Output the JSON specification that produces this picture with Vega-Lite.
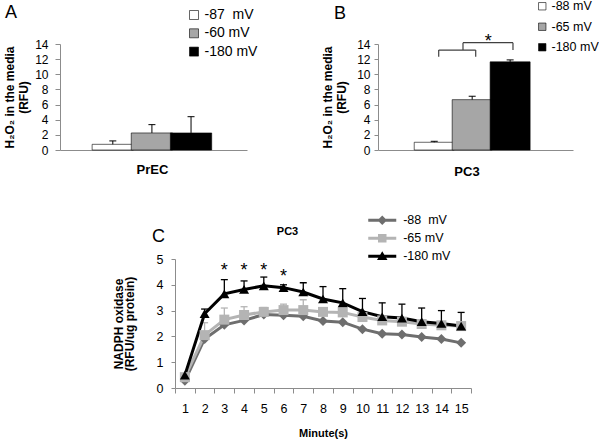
{
  "$schema": "https://vega.github.io/schema/vega-lite/v6.json",
  "padding": {"left": 3, "top": 0, "right": 0, "bottom": 0},
  "config": {
    "font": "Liberation Sans",
    "view": {"stroke": null},
    "axis": {"grid": false, "domainColor": "#8c8c8c", "tickColor": "#8c8c8c", "labelColor": "#000000", "titleColor": "#000000", "labelFont": "Liberation Sans", "titleFont": "Liberation Sans"},
    "legend": {"labelColor": "#000000", "labelFont": "Liberation Sans", "padding": 0},
    "title": {"color": "#000000", "font": "Liberation Sans"}
  },
  "datasets": {
    "h2o2": [
      {"panel": "PrEC", "series": "-87\u00a0 mV", "idx": 1, "value": 0.75, "upper": 1.2},
      {"panel": "PrEC", "series": "-60 mV", "idx": 2, "value": 2.25, "upper": 3.35},
      {"panel": "PrEC", "series": "-180 mV", "idx": 3, "value": 2.25, "upper": 4.4},
      {"panel": "PC3", "series": "-88 mV", "idx": 1, "value": 1.02, "upper": 1.15},
      {"panel": "PC3", "series": "-65 mV", "idx": 2, "value": 6.65, "upper": 7.1},
      {"panel": "PC3", "series": "-180 mV", "idx": 3, "value": 11.64, "upper": 11.9}
    ],
    "bracket": [
      {"x": 1.118, "y": 12.32, "x2": 1.118, "y2": 13.2},
      {"x": 1.118, "y": 13.2, "x2": 2.093, "y2": 13.2},
      {"x": 2.093, "y": 13.2, "x2": 2.093, "y2": 12.32},
      {"x": 1.758, "y": 13.2, "x2": 1.758, "y2": 14.17},
      {"x": 1.758, "y": 14.17, "x2": 3.075, "y2": 14.17},
      {"x": 3.075, "y": 14.17, "x2": 3.075, "y2": 13.2}
    ],
    "nadph": [
      {"minute": 1, "series": "-88\u00a0 mV", "value": 0.28},
      {"minute": 2, "series": "-88\u00a0 mV", "value": 1.9},
      {"minute": 3, "series": "-88\u00a0 mV", "value": 2.45},
      {"minute": 4, "series": "-88\u00a0 mV", "value": 2.62},
      {"minute": 5, "series": "-88\u00a0 mV", "value": 2.85},
      {"minute": 6, "series": "-88\u00a0 mV", "value": 2.82},
      {"minute": 7, "series": "-88\u00a0 mV", "value": 2.78},
      {"minute": 8, "series": "-88\u00a0 mV", "value": 2.6},
      {"minute": 9, "series": "-88\u00a0 mV", "value": 2.55},
      {"minute": 10, "series": "-88\u00a0 mV", "value": 2.28},
      {"minute": 11, "series": "-88\u00a0 mV", "value": 2.1},
      {"minute": 12, "series": "-88\u00a0 mV", "value": 2.07},
      {"minute": 13, "series": "-88\u00a0 mV", "value": 1.98},
      {"minute": 14, "series": "-88\u00a0 mV", "value": 1.9},
      {"minute": 15, "series": "-88\u00a0 mV", "value": 1.75},
      {"minute": 1, "series": "-65 mV", "value": 0.42},
      {"minute": 2, "series": "-65 mV", "value": 2.05, "upper": 2.53},
      {"minute": 3, "series": "-65 mV", "value": 2.65, "upper": 3.1},
      {"minute": 4, "series": "-65 mV", "value": 2.83, "upper": 3.15},
      {"minute": 5, "series": "-65 mV", "value": 2.95, "upper": 3.12},
      {"minute": 6, "series": "-65 mV", "value": 3.02, "upper": 3.25},
      {"minute": 7, "series": "-65 mV", "value": 3.02, "upper": 3.42},
      {"minute": 8, "series": "-65 mV", "value": 2.95},
      {"minute": 9, "series": "-65 mV", "value": 2.93},
      {"minute": 10, "series": "-65 mV", "value": 2.75},
      {"minute": 11, "series": "-65 mV", "value": 2.62},
      {"minute": 12, "series": "-65 mV", "value": 2.57},
      {"minute": 13, "series": "-65 mV", "value": 2.48},
      {"minute": 14, "series": "-65 mV", "value": 2.43},
      {"minute": 15, "series": "-65 mV", "value": 2.4},
      {"minute": 1, "series": "-180 mV", "value": 0.5},
      {"minute": 2, "series": "-180 mV", "value": 2.88, "upper": 3.06},
      {"minute": 3, "series": "-180 mV", "value": 3.65, "upper": 4.2},
      {"minute": 4, "series": "-180 mV", "value": 3.82, "upper": 4.15},
      {"minute": 5, "series": "-180 mV", "value": 3.96, "upper": 4.3},
      {"minute": 6, "series": "-180 mV", "value": 3.89, "upper": 4.0},
      {"minute": 7, "series": "-180 mV", "value": 3.72, "upper": 4.08},
      {"minute": 8, "series": "-180 mV", "value": 3.45, "upper": 3.93},
      {"minute": 9, "series": "-180 mV", "value": 3.3, "upper": 3.85},
      {"minute": 10, "series": "-180 mV", "value": 2.96, "upper": 3.47},
      {"minute": 11, "series": "-180 mV", "value": 2.76, "upper": 3.3},
      {"minute": 12, "series": "-180 mV", "value": 2.71, "upper": 3.25},
      {"minute": 13, "series": "-180 mV", "value": 2.57, "upper": 3.1},
      {"minute": 14, "series": "-180 mV", "value": 2.5, "upper": 3.0},
      {"minute": 15, "series": "-180 mV", "value": 2.4, "upper": 2.93}
    ]
  },
  "resolve": {"scale": {"color": "independent", "shape": "independent"}, "legend": {"color": "independent", "shape": "independent"}},
  "vconcat": [
    {
      "spacing": 63,
      "resolve": {"scale": {"color": "independent"}, "legend": {"color": "independent"}},
      "hconcat": [
        {
          "width": 187, "height": 106,
          "title": {"text": "A", "anchor": "start", "frame": "group", "dx": -55, "offset": -14, "fontSize": 18, "fontWeight": "normal"},
          "encoding": {
            "x": {"field": "idx", "type": "quantitative", "scale": {"domain": [-0.222, 4.303], "nice": false, "zero": false},
              "axis": {"values": [2], "labelExpr": "'PrEC'", "ticks": false, "tickSize": 0, "labelFontSize": 13, "labelFontWeight": "bold", "labelPadding": 13, "labelFlush": false, "title": null}},
            "y": {"field": "value", "type": "quantitative", "stack": null, "scale": {"domain": [0, 14], "nice": false},
              "axis": {"values": [0, 2, 4, 6, 8, 10, 12, 14], "title": ["H₂O₂ in the media", "(RFU)"], "titleFontSize": 12, "titleFontWeight": "bold", "titleLineHeight": 14, "titlePadding": 4, "labelFontSize": 12, "labelPadding": 7, "tickSize": 5}}
          },
          "layer": [
            {
              "data": {"name": "h2o2"},
              "transform": [{"filter": "datum.panel == 'PrEC'"}],
              "mark": {"type": "bar", "orient": "vertical", "width": 41.33, "stroke": "#000000", "strokeWidth": 0.6, "opacity": 1},
              "encoding": {
                "color": {"field": "series", "type": "nominal", "sort": null,
                  "scale": {"domain": ["-87\u00a0 mV", "-60 mV", "-180 mV"], "range": ["#ffffff", "#a6a6a6", "#000000"]},
                  "legend": {"orient": "none", "legendX": 127, "legendY": -36, "title": null, "symbolType": "square", "symbolSize": 81, "labelFontSize": 14, "labelOffset": 3.5, "rowPadding": 4.3, "symbolStrokeColor": "#000000", "symbolStrokeWidth": 0.6}}
              }
            },
            {
              "data": {"name": "h2o2"},
              "transform": [{"filter": "datum.panel == 'PrEC'"}],
              "mark": {"type": "rule", "color": "#000000", "strokeWidth": 1},
              "encoding": {"y2": {"field": "upper"}}
            },
            {
              "data": {"name": "h2o2"},
              "transform": [{"filter": "datum.panel == 'PrEC'"}],
              "mark": {"type": "tick", "orient": "horizontal", "color": "#000000", "size": 7, "thickness": 1, "opacity": 1},
              "encoding": {"y": {"field": "upper", "type": "quantitative"}}
            }
          ]
        },
        {
          "width": 195, "height": 106,
          "title": {"text": "B", "anchor": "start", "frame": "group", "dx": -44, "offset": -23, "fontSize": 18, "fontWeight": "normal"},
          "encoding": {
            "x": {"field": "idx", "type": "quantitative", "scale": {"domain": [-0.35, 4.525], "nice": false, "zero": false},
              "axis": {"values": [1.85], "labelExpr": "'PC3'", "ticks": false, "tickSize": 0, "labelFontSize": 13, "labelFontWeight": "bold", "labelPadding": 15, "labelFlush": false, "title": null}},
            "y": {"field": "value", "type": "quantitative", "stack": null, "scale": {"domain": [0, 14], "nice": false},
              "axis": {"values": [0, 2, 4, 6, 8, 10, 12, 14], "title": ["H₂O₂ in the media", "(RFU)"], "titleFontSize": 12, "titleFontWeight": "bold", "titleLineHeight": 14, "titlePadding": 8, "labelFontSize": 12, "labelPadding": 4, "tickSize": 4}}
          },
          "layer": [
            {
              "data": {"name": "h2o2"},
              "transform": [{"filter": "datum.panel == 'PC3'"}],
              "mark": {"type": "bar", "orient": "vertical", "width": 40, "stroke": "#000000", "strokeWidth": 0.6, "opacity": 1},
              "encoding": {
                "color": {"field": "series", "type": "nominal", "sort": null,
                  "scale": {"domain": ["-88 mV", "-65 mV", "-180 mV"], "range": ["#ffffff", "#a6a6a6", "#000000"]},
                  "legend": {"orient": "none", "legendX": 158, "legendY": -44, "title": null, "symbolType": "square", "symbolSize": 55, "labelFontSize": 12.5, "labelOffset": 3, "rowPadding": 7.5, "symbolStrokeColor": "#000000", "symbolStrokeWidth": 0.6}}
              }
            },
            {
              "data": {"name": "h2o2"},
              "transform": [{"filter": "datum.panel == 'PC3'"}],
              "mark": {"type": "rule", "color": "#000000", "strokeWidth": 1},
              "encoding": {"y2": {"field": "upper"}}
            },
            {
              "data": {"name": "h2o2"},
              "transform": [{"filter": "datum.panel == 'PC3'"}],
              "mark": {"type": "tick", "orient": "horizontal", "color": "#000000", "size": 7, "thickness": 1, "opacity": 1},
              "encoding": {"y": {"field": "upper", "type": "quantitative"}}
            },
            {
              "data": {"name": "bracket"},
              "mark": {"type": "rule", "color": "#404040", "strokeWidth": 1.2},
              "encoding": {
                "x": {"field": "x", "type": "quantitative"},
                "y": {"field": "y", "type": "quantitative"},
                "x2": {"field": "x2"},
                "y2": {"field": "y2"}
              }
            },
            {
              "data": {"values": [{"x": 2.425, "y": 14.27, "mark": "*"}]},
              "mark": {"type": "text", "fontSize": 18, "baseline": "middle", "color": "#000000"},
              "encoding": {
                "x": {"field": "x", "type": "quantitative"},
                "y": {"field": "y", "type": "quantitative"},
                "text": {"field": "mark"}
              }
            }
          ]
        }
      ]
    },
    {
      "spacing": 0,
      "hconcat": [
        {
          "width": 52, "height": 1,
          "data": {"values": [{"blank": ""}]},
          "mark": {"type": "text"},
          "encoding": {"text": {"field": "blank"}}
        },
        {
          "width": 296, "height": 129,
          "title": {"text": "C", "anchor": "start", "frame": "group", "dx": -23, "offset": -32, "fontSize": 18, "fontWeight": "normal"},
          "resolve": {"scale": {"color": "independent", "shape": "independent"}},
          "encoding": {
            "x": {"field": "minute", "type": "ordinal", "scale": {"type": "band", "paddingInner": 0, "paddingOuter": 0},
              "axis": {"title": "Minute(s)", "titleFontSize": 11, "titleFontWeight": "bold", "titlePadding": 13, "labelAngle": 0, "labelFontSize": 12.5, "labelPadding": 9, "tickSize": 5, "tickBand": "extent"}},
            "y": {"field": "value", "type": "quantitative", "scale": {"domain": [0, 5], "nice": false},
              "axis": {"values": [0, 1, 2, 3, 4, 5], "title": ["NADPH oxidase", "(RFU/ug protein)"], "titleFontSize": 12, "titleFontWeight": "bold", "titleLineHeight": 11, "titlePadding": 20, "labelFontSize": 12.5, "labelPadding": 8, "tickSize": 4}}
          },
          "layer": [
            {
              "data": {"name": "nadph"},
              "transform": [{"filter": "isValid(datum.upper)"}],
              "mark": {"type": "rule", "strokeWidth": 1.3},
              "encoding": {
                "y2": {"field": "upper"},
                "color": {"field": "series", "type": "nominal", "sort": null, "legend": null,
                  "scale": {"domain": ["-88\u00a0 mV", "-65 mV", "-180 mV"], "range": ["#6e6e6e", "#b4b4b4", "#000000"]}}
              }
            },
            {
              "data": {"name": "nadph"},
              "transform": [{"filter": "isValid(datum.upper)"}],
              "mark": {"type": "tick", "orient": "horizontal", "size": 7, "thickness": 1.3, "opacity": 1},
              "encoding": {
                "y": {"field": "upper", "type": "quantitative"},
                "color": {"field": "series", "type": "nominal", "sort": null, "legend": null,
                  "scale": {"domain": ["-88\u00a0 mV", "-65 mV", "-180 mV"], "range": ["#6e6e6e", "#b4b4b4", "#000000"]}}
              }
            },
            {
              "data": {"name": "nadph"},
              "mark": {"type": "line", "strokeWidth": 3},
              "encoding": {
                "color": {"field": "series", "type": "nominal", "sort": null, "legend": null,
                  "scale": {"domain": ["-88\u00a0 mV", "-65 mV", "-180 mV"], "range": ["#6e6e6e", "#b4b4b4", "#000000"]}}
              }
            },
            {
              "data": {"name": "nadph"},
              "mark": {"type": "point", "filled": true, "opacity": 1, "size": 100},
              "encoding": {
                "color": {"field": "series", "type": "nominal", "sort": null, "legend": null,
                  "scale": {"domain": ["-88\u00a0 mV", "-65 mV", "-180 mV"], "range": ["#6e6e6e", "#b4b4b4", "#000000"]}},
                "shape": {"field": "series", "type": "nominal", "sort": null, "legend": null,
                  "scale": {"domain": ["-88\u00a0 mV", "-65 mV", "-180 mV"], "range": ["diamond", "square", "triangle-up"]}}
              }
            },
            {
              "data": {"values": [{"minute": 3, "y": 4.55, "mark": "*"}, {"minute": 4, "y": 4.55, "mark": "*"}, {"minute": 5, "y": 4.55, "mark": "*"}, {"minute": 6, "y": 4.3, "mark": "*"}]},
              "mark": {"type": "text", "fontSize": 18, "baseline": "middle", "color": "#000000"},
              "encoding": {
                "y": {"field": "y", "type": "quantitative"},
                "text": {"field": "mark"}
              }
            },
            {
              "data": {"values": [{"minute": 6, "y": 6.05, "label": "PC3"}]},
              "mark": {"type": "text", "fontSize": 11, "fontWeight": "bold", "baseline": "middle", "dx": 4, "color": "#000000"},
              "encoding": {
                "y": {"field": "y", "type": "quantitative"},
                "text": {"field": "label"}
              }
            },
            {
              "data": {"values": []},
              "mark": {"type": "point", "filled": true, "opacity": 1, "size": 100},
              "encoding": {
                "color": {"field": "series", "type": "nominal", "sort": null,
                  "scale": {"domain": ["-88\u00a0 mV", "-65 mV", "-180 mV"], "range": ["#6e6e6e", "#b4b4b4", "#000000"]},
                  "legend": {"orient": "none", "legendX": 201, "legendY": -45, "title": null, "symbolSize": 100, "labelFontSize": 12.5, "labelOffset": 14.7, "rowPadding": 5, "symbolStrokeWidth": 0}},
                "shape": {"field": "series", "type": "nominal", "sort": null,
                  "scale": {"domain": ["-88\u00a0 mV", "-65 mV", "-180 mV"], "range": ["M-2.8,-0.3H2.8V0.3H-2.8Z M0,-0.95L0.95,0L0,0.95L-0.95,0Z", "M-2.8,-0.3H2.8V0.3H-2.8Z M-0.85,-0.85H0.85V0.85H-0.85Z", "M-2.8,-0.3H2.8V0.3H-2.8Z M0,-1L1.05,0.75H-1.05Z"]},
                  "legend": {"orient": "none", "legendX": 201, "legendY": -45, "title": null, "symbolSize": 100, "labelFontSize": 12.5, "labelOffset": 14.7, "rowPadding": 5, "symbolStrokeWidth": 0}}
              }
            }
          ]
        }
      ]
    }
  ],
  "spacing": 36
}
